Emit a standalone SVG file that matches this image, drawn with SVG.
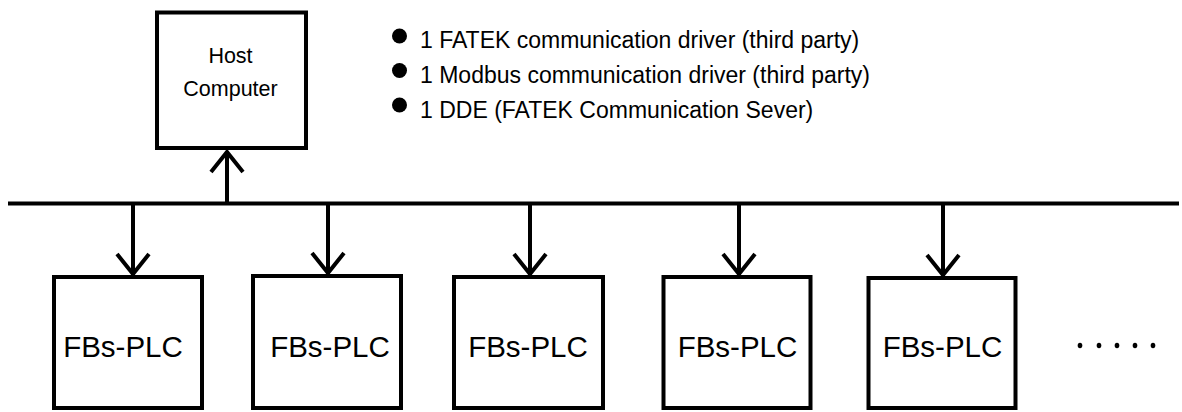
<svg xmlns="http://www.w3.org/2000/svg" width="1182" height="412" viewBox="0 0 1182 412">
<style>
.box{fill:#fff;stroke:#000;stroke-width:4}
.ln{stroke:#000;stroke-width:4;fill:none}
.t{font-family:"Liberation Sans",Arial,sans-serif;fill:#000}
.host{font-size:21.5px;text-anchor:middle}
.plc{font-size:29.5px;text-anchor:middle}
.bul{font-size:23px}
</style>
<defs>
<marker id="arr" markerUnits="userSpaceOnUse" markerWidth="40" markerHeight="40" viewBox="0 0 40 40" refX="36" refY="20" orient="auto">
<path d="M15,4 L35,20 L15,36" fill="none" stroke="#000" stroke-width="4" stroke-linejoin="miter"/>
</marker>
</defs>
<rect width="1182" height="412" fill="#fff"/>
<g id="connectors">
<line class="ln" x1="8" y1="203.5" x2="1179" y2="203.5"/>
<line class="ln" x1="227" y1="203" x2="227" y2="151" marker-end="url(#arr)"/>
<line class="ln" x1="133" y1="205" x2="133" y2="275" marker-end="url(#arr)"/>
<line class="ln" x1="328" y1="205" x2="328" y2="274" marker-end="url(#arr)"/>
<line class="ln" x1="530" y1="205" x2="530" y2="275" marker-end="url(#arr)"/>
<line class="ln" x1="739" y1="205" x2="739" y2="275" marker-end="url(#arr)"/>
<line class="ln" x1="943" y1="205" x2="943" y2="276" marker-end="url(#arr)"/>
</g>
<g id="host">
<rect class="box" x="157" y="12.5" width="149" height="135.5"/>
<text class="t host" x="230.5" y="62.5">Host</text>
<text class="t host" x="230.5" y="96">Computer</text>
</g>
<g id="notes">
<circle cx="399.5" cy="36" r="7.5" fill="#000"/>
<circle cx="399.5" cy="70.5" r="7.5" fill="#000"/>
<circle cx="399.5" cy="105" r="7.5" fill="#000"/>
<text class="t bul" x="420" y="48">1 FATEK communication driver (third party)</text>
<text class="t bul" x="420" y="83">1 Modbus communication driver (third party)</text>
<text class="t bul" x="420" y="118">1 DDE (FATEK Communication Sever)</text>
</g>
<g id="plc1">
<rect class="box" x="54" y="277" width="148" height="131"/>
<text class="t plc" x="123" y="357">FBs-PLC</text>
</g>
<g id="plc2">
<rect class="box" x="253" y="276" width="148" height="132"/>
<text class="t plc" x="330" y="357">FBs-PLC</text>
</g>
<g id="plc3">
<rect class="box" x="454" y="277" width="149" height="131"/>
<text class="t plc" x="528" y="357">FBs-PLC</text>
</g>
<g id="plc4">
<rect class="box" x="663.5" y="277" width="147" height="131"/>
<text class="t plc" x="737.5" y="357">FBs-PLC</text>
</g>
<g id="plc5">
<rect class="box" x="868.5" y="278" width="147" height="130"/>
<text class="t plc" x="942.5" y="357">FBs-PLC</text>
</g>
<g id="more" fill="#000">
<ellipse cx="1080" cy="345.5" rx="2.3" ry="2.7"/>
<ellipse cx="1099" cy="345.5" rx="2.3" ry="2.7"/>
<ellipse cx="1117" cy="345.5" rx="2.3" ry="2.7"/>
<ellipse cx="1135" cy="345.5" rx="2.3" ry="2.7"/>
<ellipse cx="1153" cy="345.5" rx="2.3" ry="2.7"/>
</g>
</svg>
